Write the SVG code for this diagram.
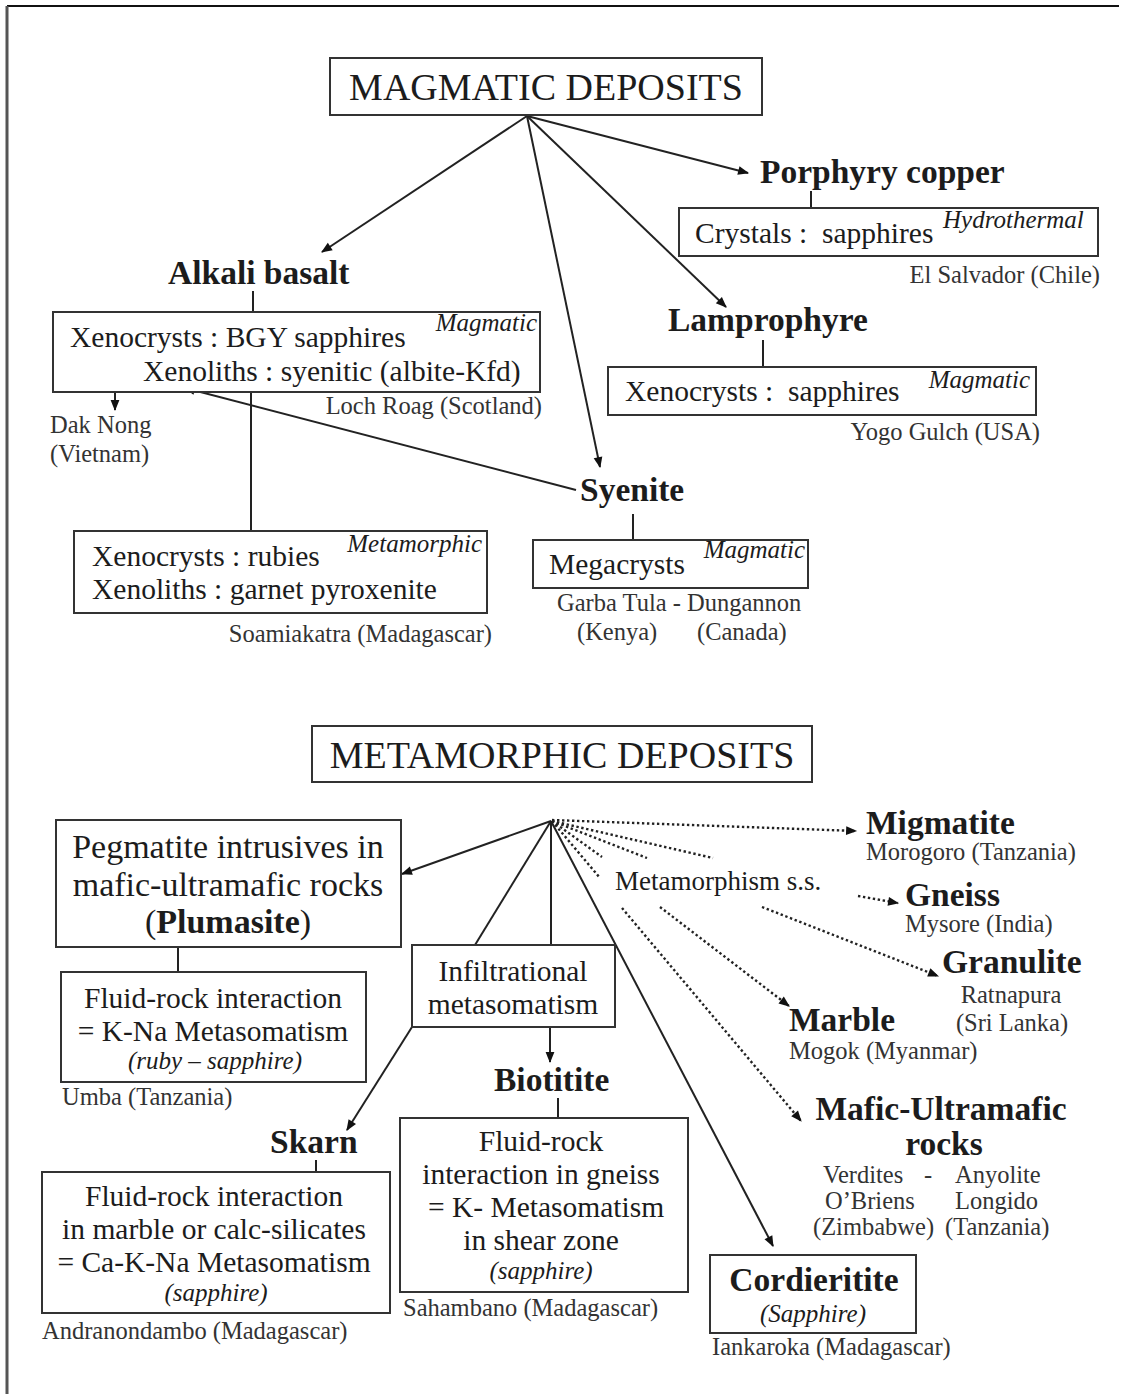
<svg xmlns="http://www.w3.org/2000/svg" width="1129" height="1394" viewBox="0 0 1129 1394">
<defs>
<style>
.t{font-family:"Liberation Serif","Times New Roman",serif;fill:#1c1c1c;white-space:pre}
.h{font-size:38px}
.b{font-size:33.5px;font-weight:bold}
.m{font-size:29.5px}
.p{font-size:34px}
.i{font-size:25px;font-style:italic}
.l{font-size:24.5px;fill:#333}
.c{text-anchor:middle}
.e{text-anchor:end}
.box{fill:#fff;stroke:#333;stroke-width:2}
.ln{stroke:#222;stroke-width:2;fill:none}
.dot{stroke:#222;stroke-width:2.4;stroke-dasharray:2.4 2.6;fill:none}
</style>
<marker id="ah" viewBox="0 0 10 10" refX="9" refY="5" markerWidth="13" markerHeight="11" markerUnits="userSpaceOnUse" orient="auto">
<path d="M0,1 L10,5 L0,9 z" fill="#111"/>
</marker>
</defs>
<rect x="0" y="0" width="1129" height="1394" fill="#fff"/>
<g id="frame">
<line x1="7" y1="6" x2="1119" y2="6" stroke="#111" stroke-width="2"/>
<line x1="7" y1="6" x2="7" y2="1394" stroke="#555" stroke-width="3"/>
</g>
<g id="connectors">
<line class="ln" x1="527" y1="116" x2="322" y2="252" marker-end="url(#ah)"/>
<line class="ln" x1="527" y1="116" x2="748" y2="173" marker-end="url(#ah)"/>
<line class="ln" x1="527" y1="116" x2="726" y2="307" marker-end="url(#ah)"/>
<line class="ln" x1="527" y1="116" x2="600" y2="467" marker-end="url(#ah)"/>
<line class="ln" x1="811" y1="191" x2="811" y2="208"/>
<line class="ln" x1="763" y1="340" x2="763" y2="367"/>
<line class="ln" x1="253" y1="291" x2="253" y2="312"/>
<line class="ln" x1="115" y1="352" x2="115" y2="410" marker-end="url(#ah)"/>
<line class="ln" x1="251" y1="392" x2="251" y2="531"/>
<line class="ln" x1="576" y1="490" x2="185" y2="388" marker-end="url(#ah)"/>
<line class="ln" x1="633" y1="514" x2="633" y2="540"/>
<line class="ln" x1="551" y1="821" x2="402" y2="874" marker-end="url(#ah)"/>
<line class="ln" x1="551" y1="821" x2="475" y2="945"/>
<line class="ln" x1="551" y1="821" x2="551" y2="945"/>
<line class="ln" x1="551" y1="821" x2="773" y2="1246" marker-end="url(#ah)"/>
<line class="ln" x1="178" y1="947" x2="178" y2="972"/>
<line class="ln" x1="550" y1="1027" x2="550" y2="1062" marker-end="url(#ah)"/>
<line class="ln" x1="412" y1="1027" x2="347" y2="1130" marker-end="url(#ah)"/>
<line class="ln" x1="558" y1="1098" x2="558" y2="1118"/>
<line class="ln" x1="316" y1="1160" x2="316" y2="1172"/>
<line class="dot" x1="552" y1="820" x2="856" y2="831" marker-end="url(#ah)"/>
<line class="dot" x1="552" y1="821" x2="713" y2="858"/>
<line class="dot" x1="552" y1="821" x2="647" y2="858"/>
<line class="dot" x1="552" y1="821" x2="602" y2="857"/>
<line class="dot" x1="552" y1="821" x2="600" y2="878"/>
<line class="dot" x1="858" y1="896" x2="898" y2="903" marker-end="url(#ah)"/>
<line class="dot" x1="762" y1="907" x2="938" y2="976" marker-end="url(#ah)"/>
<line class="dot" x1="660" y1="907" x2="789" y2="1006" marker-end="url(#ah)"/>
<line class="dot" x1="622" y1="908" x2="801" y2="1121" marker-end="url(#ah)"/>
</g>
<g id="magmatic">
<rect class="box" x="330" y="58" width="432" height="57"/>
<text class="t h c" x="546" y="100">MAGMATIC DEPOSITS</text>
</g>
<g id="porphyry">
<text class="t b" x="760" y="183">Porphyry copper</text>
<rect class="box" x="679" y="208" width="419" height="48"/>
<text class="t m" x="695" y="243">Crystals :  sapphires</text>
<text class="t i" x="943" y="228">Hydrothermal</text>
<text class="t l e" x="1100" y="283">El Salvador (Chile)</text>
</g>
<g id="lamprophyre">
<text class="t b" x="668" y="331">Lamprophyre</text>
<rect class="box" x="608" y="367" width="428" height="48"/>
<text class="t m" x="625" y="401">Xenocrysts :  sapphires</text>
<text class="t i e" x="1030" y="388">Magmatic</text>
<text class="t l e" x="1040" y="440">Yogo Gulch (USA)</text>
</g>
<g id="alkali">
<text class="t b" x="168" y="284">Alkali basalt</text>
<rect class="box" x="53" y="312" width="487" height="80"/>
<text class="t m" x="70" y="347">Xenocrysts : BGY sapphires</text>
<text class="t i e" x="537" y="331">Magmatic</text>
<text class="t m" x="143" y="381">Xenoliths : syenitic (albite-Kfd)</text>
<text class="t l e" x="542" y="414">Loch Roag (Scotland)</text>
</g>
<g id="daknong">
<text class="t l" x="50" y="433">Dak Nong</text>
<text class="t l" x="50" y="462">(Vietnam)</text>
</g>
<g id="rubies">
<rect class="box" x="74" y="531" width="413" height="82"/>
<text class="t m" x="92" y="566">Xenocrysts : rubies</text>
<text class="t i e" x="482" y="552">Metamorphic</text>
<text class="t m" x="92" y="599">Xenoliths : garnet pyroxenite</text>
<text class="t l e" x="492" y="642">Soamiakatra (Madagascar)</text>
</g>
<g id="syenite">
<text class="t b" x="580" y="501">Syenite</text>
<rect class="box" x="533" y="540" width="275" height="48"/>
<text class="t m" x="549" y="574">Megacrysts</text>
<text class="t i e" x="805" y="558">Magmatic</text>
<text class="t l" x="557" y="611">Garba Tula - Dungannon</text>
<text class="t l" x="577" y="640">(Kenya)</text>
<text class="t l" x="697" y="640">(Canada)</text>
</g>
<g id="metamorphic">
<rect class="box" x="312" y="726" width="500" height="56"/>
<text class="t h c" x="562" y="768">METAMORPHIC DEPOSITS</text>
</g>
<g id="pegmatite">
<rect class="box" x="56" y="820" width="345" height="127"/>
<text class="t p c" x="228" y="858">Pegmatite intrusives in</text>
<text class="t p c" x="228" y="896">mafic-ultramafic rocks</text>
<text class="t p c" x="228" y="933">(<tspan font-weight="bold">Plumasite</tspan>)</text>
</g>
<g id="umba">
<rect class="box" x="61" y="972" width="305" height="110"/>
<text class="t m c" x="213" y="1008">Fluid-rock interaction</text>
<text class="t m c" x="213" y="1041">= K-Na Metasomatism</text>
<text class="t i c" x="215" y="1069" font-size="23">(ruby – sapphire)</text>
<text class="t l" x="62" y="1105">Umba (Tanzania)</text>
</g>
<g id="infiltrational">
<rect class="box" x="412" y="945" width="203" height="82"/>
<text class="t m c" x="513" y="981">Infiltrational</text>
<text class="t m c" x="513" y="1014">metasomatism</text>
</g>
<g id="biotitite">
<text class="t b" x="494" y="1091">Biotitite</text>
<rect class="box" x="400" y="1118" width="288" height="174"/>
<text class="t m c" x="541" y="1151">Fluid-rock</text>
<text class="t m c" x="541" y="1184">interaction in gneiss</text>
<text class="t m c" x="546" y="1217">= K- Metasomatism</text>
<text class="t m c" x="541" y="1250">in shear zone</text>
<text class="t i c" x="541" y="1279" font-size="23">(sapphire)</text>
<text class="t l" x="403" y="1316">Sahambano (Madagascar)</text>
</g>
<g id="skarn">
<text class="t b" x="270" y="1153">Skarn</text>
<rect class="box" x="42" y="1172" width="348" height="141"/>
<text class="t m c" x="214" y="1206">Fluid-rock interaction</text>
<text class="t m c" x="214" y="1239">in marble or calc-silicates</text>
<text class="t m c" x="214" y="1272">= Ca-K-Na Metasomatism</text>
<text class="t i c" x="216" y="1301" font-size="23">(sapphire)</text>
<text class="t l" x="42" y="1339">Andranondambo (Madagascar)</text>
</g>
<g id="cordieritite">
<rect class="box" x="710" y="1255" width="206" height="78"/>
<text class="t b c" x="814" y="1291">Cordieritite</text>
<text class="t i c" x="813" y="1322" font-size="23">(Sapphire)</text>
<text class="t l" x="712" y="1355">Iankaroka (Madagascar)</text>
</g>
<g id="migmatite">
<text class="t b" x="866" y="834">Migmatite</text>
<text class="t l" x="866" y="860">Morogoro (Tanzania)</text>
</g>
<g id="metamorphism-ss">
<text class="t" x="615" y="890" font-size="27">Metamorphism s.s.</text>
</g>
<g id="gneiss">
<text class="t b" x="905" y="906">Gneiss</text>
<text class="t l" x="905" y="932">Mysore (India)</text>
</g>
<g id="granulite">
<text class="t b" x="942" y="973">Granulite</text>
<text class="t l c" x="1011" y="1003">Ratnapura</text>
<text class="t l c" x="1012" y="1031">(Sri Lanka)</text>
</g>
<g id="marble">
<text class="t b" x="789" y="1031">Marble</text>
<text class="t l" x="789" y="1059">Mogok (Myanmar)</text>
</g>
<g id="mafic">
<text class="t b c"><tspan x="941" y="1120">Mafic-Ultramafic</tspan><tspan x="944" y="1155">rocks</tspan></text>
<text class="t l" x="823" y="1183">Verdites</text>
<text class="t l" x="924" y="1183">-</text>
<text class="t l" x="955" y="1183">Anyolite</text>
<text class="t l" x="825" y="1209">O’Briens</text>
<text class="t l" x="955" y="1209">Longido</text>
<text class="t l" x="813" y="1235">(Zimbabwe)</text>
<text class="t l" x="945" y="1235">(Tanzania)</text>
</g>
</svg>
